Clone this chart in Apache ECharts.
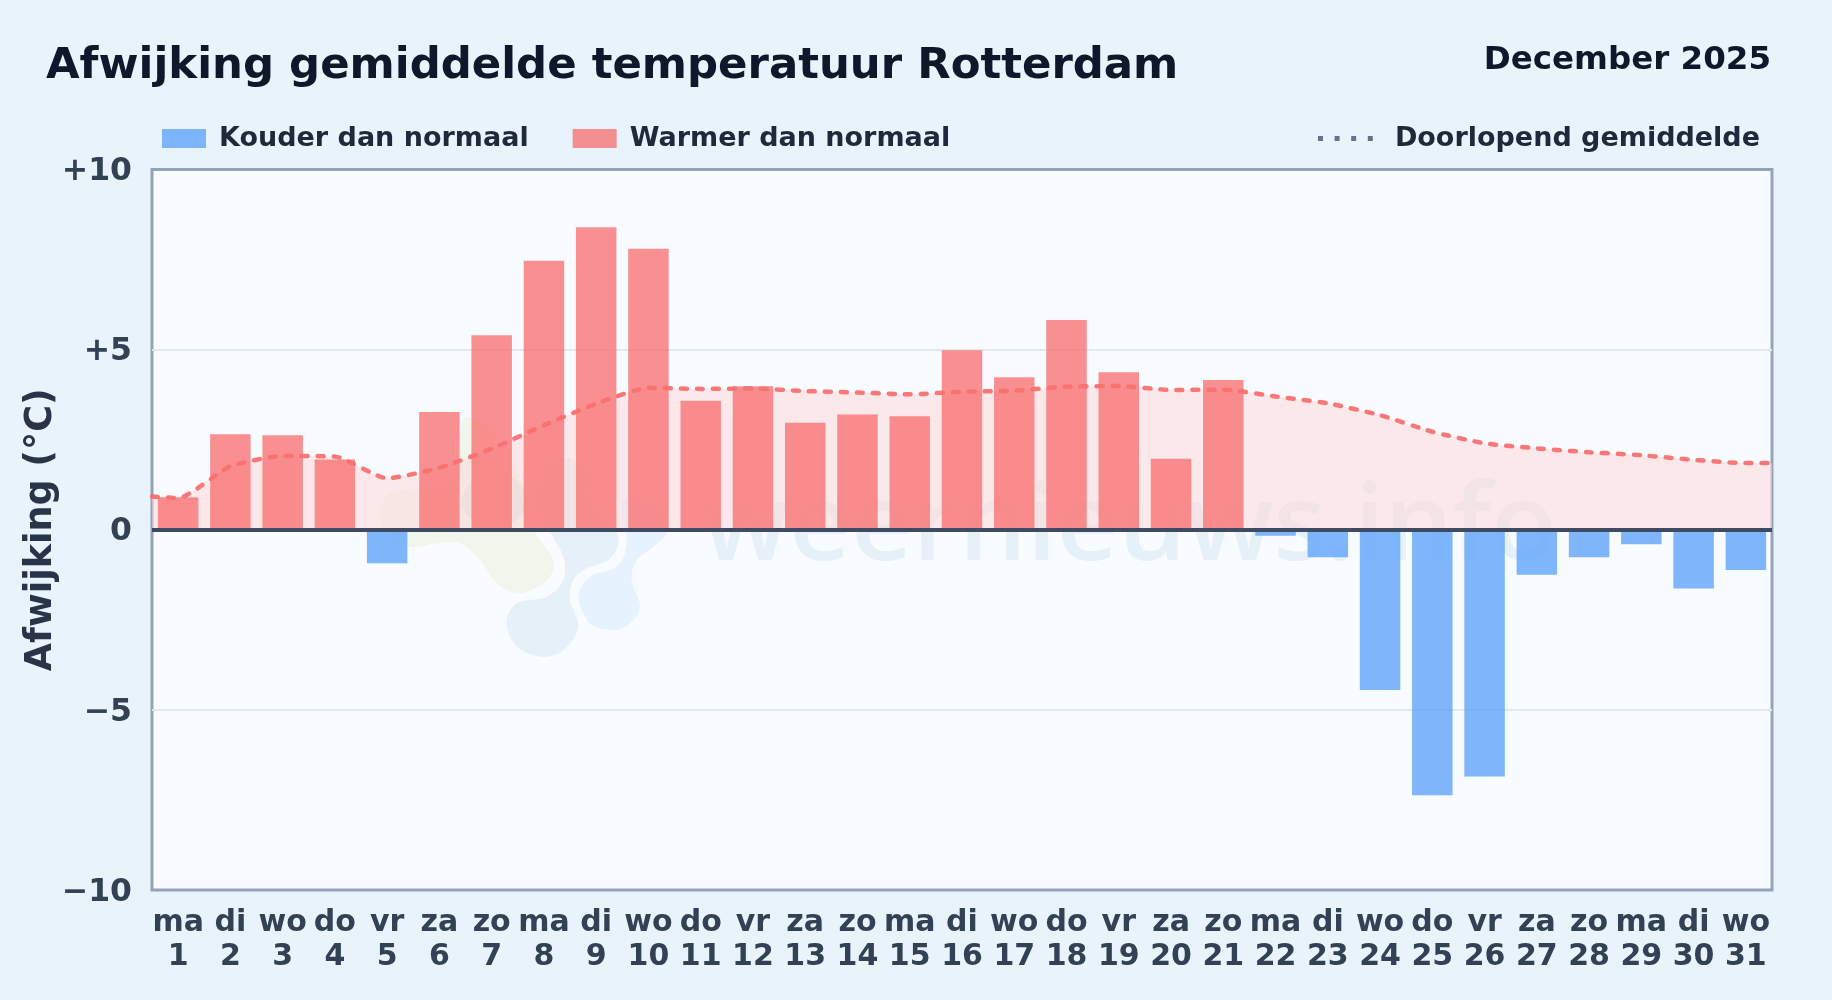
<!DOCTYPE html>
<html>
<head>
<meta charset="utf-8">
<script src="https://cdn.jsdelivr.net/npm/echarts@6/dist/echarts.min.js"></script>
<style>html,body{margin:0;padding:0;background:#e8f3fc}#c{width:1832px;height:1000px}</style>
</head>
<body>
<div id="c"></div>
<script>
const titleText = 'Afwijking gemiddelde temperatuur Rotterdam';
const periodText = 'December 2025';
const coldName = 'Kouder dan normaal';
const warmName = 'Warmer dan normaal';
const meanName = 'Doorlopend gemiddelde';
const yAxisName = 'Afwijking (°C)';
const weekdays = ['ma','di','wo','do','vr','za','zo','ma','di','wo','do','vr','za','zo','ma','di','wo','do','vr','za','zo','ma','di','wo','do','vr','za','zo','ma','di','wo'];
const days = [1,2,3,4,5,6,7,8,9,10,11,12,13,14,15,16,17,18,19,20,21,22,23,24,25,26,27,28,29,30,31];
const deviations = [0.9,2.65,2.62,1.95,-0.93,3.27,5.4,7.47,8.4,7.8,3.58,3.98,2.97,3.2,3.15,4.98,4.23,5.82,4.37,1.97,4.16,-0.17,-0.76,-4.45,-7.37,-6.85,-1.25,-0.76,-0.4,-1.63,-1.12];
const runningMean = [0.88,1.76,2.05,2.03,1.43,1.72,2.25,2.9,3.5,3.94,3.91,3.92,3.85,3.81,3.76,3.83,3.86,3.97,3.99,3.88,3.89,3.7,3.51,3.18,2.72,2.4,2.26,2.15,2.07,1.94,1.85];
const meanEdgeLeft = 0.92;
const meanEdgeRight = 1.85;
const yTickLabels = {'10':'+10','5':'+5','0':'0','-5':'−5','-10':'−10'};

const font = "'DejaVu Sans'";
const coldColor = 'rgba(96,165,250,0.8)';
const warmColor = 'rgba(248,113,113,0.78)';

const chart = echarts.init(document.getElementById('c'), null, {renderer:'canvas', width:1832, height:1000});

// Decorative logo outline: closed Catmull-Rom curve through hand-placed outline points
function roundOutline(p){
  const out=[], n=p.length;
  for(let i=0;i<n;i++){
    const a=p[(i-1+n)%n], b=p[i], c=p[(i+1)%n], d=p[(i+2)%n];
    for(let k=0;k<10;k++){
      const t=k/10, t2=t*t, t3=t2*t;
      out.push([0,1].map(j=>0.5*(2*b[j]+(c[j]-a[j])*t+(2*a[j]-5*b[j]+4*c[j]-d[j])*t2+(3*b[j]-a[j]-3*c[j]+d[j])*t3)));
    }
  }
  return out;
}
function blob(points, fill){
  return {type:'polygon', z:1, silent:true, shape:{points:roundOutline(points.map(p=>[360+p[0]/3,400+p[1]/3]))}, style:{fill:fill}};
}
const meanPoints = [[0.5,meanEdgeLeft]].concat(runningMean.map((v,i)=>[days[i],v]),[[31.5,meanEdgeRight]]);

chart.setOption({
  animation:false,
  backgroundColor:'#e8f3fc',
  textStyle:{fontFamily:font},
  title:[
    {text:titleText,left:46,top:45.5,padding:0,textStyle:{fontFamily:font,fontSize:43.4,fontWeight:'bold',color:'#0f172a'}},
    {text:periodText,right:61,top:44.5,padding:0,textStyle:{fontFamily:font,fontSize:32.5,fontWeight:'bold',color:'#0f172a'}}
  ],
  legend:[
    {left:162,top:125,padding:0,itemWidth:44,itemHeight:19,itemGap:44,selectedMode:false,
     data:[{name:coldName,icon:'rect'},{name:warmName,icon:'rect'}],
     textStyle:{fontFamily:font,fontSize:27,fontWeight:'bold',color:'#1e293b',padding:[0,0,0,8]}},
    {right:72,top:125,padding:0,itemWidth:55,itemHeight:19,selectedMode:false,
     data:[{name:meanName,icon:'path://M0 7h5v5H0z M16.6 7h5v5h-5z M33.2 7h5v5h-5z M49.8 7h5v5h-5z M0 0h0.01v19H0z M54.79 0h0.01v19h-0.01z',itemStyle:{color:'#64748b'}}],
     textStyle:{fontFamily:font,fontSize:27,fontWeight:'bold',color:'#1e293b',padding:[0,0,0,17]}}
  ],
  grid:{left:152,right:60,top:169.5,bottom:110,containLabel:false,show:true,backgroundColor:'#f8fbff',borderColor:'#94a3b8',borderWidth:3},
  xAxis:[
    {type:'category',data:days.map((d,i)=>weekdays[i]+'\n'+d),axisTick:{show:false},axisLine:{show:false,onZero:false},splitLine:{show:false},
     axisLabel:{interval:0,hideOverlap:false,fontFamily:font,fontSize:30,fontWeight:'bold',color:'#334155',lineHeight:34,margin:16.5}},
    {type:'value',min:0.5,max:31.5,show:false}
  ],
  yAxis:{type:'value',min:-10,max:10,interval:5,name:yAxisName,nameLocation:'middle',nameGap:92,nameMoveOverlap:false,
    nameTextStyle:{fontFamily:font,fontSize:36.5,fontWeight:'bold',color:'#283548'},
    axisLine:{show:false},axisTick:{show:false},
    splitLine:{show:true,showMinLine:false,showMaxLine:false,lineStyle:{color:'#e2e7ea',width:2}},
    axisLabel:{formatter:v=>'{t|'+yTickLabels[String(v)]+'}',margin:20,
      rich:{t:{fontFamily:font,fontSize:31.5,fontWeight:'bold',color:'#334155',padding:[5,0,0,0]}}}},
  graphic:[
    blob([[60,340],[90,280],[170,265],[280,230],[300,100],[320,50],[400,100],[480,230],[500,300],[520,390],[580,480],[560,540],[480,580],[410,550],[360,480],[300,430],[230,430],[150,440],[80,400]],'rgba(190,215,110,0.13)'),
    blob([[440,670],[470,610],[560,590],[610,540],[610,470],[570,395],[530,300],[560,200],[630,175],[690,230],[690,300],[760,380],[775,430],[745,480],[680,505],[640,540],[630,600],[655,680],[610,750],[545,770],[470,740]],'rgba(30,110,160,0.08)'),
    blob([[305,300],[340,240],[400,220],[470,240],[500,300],[470,360],[400,380],[335,360]],'rgba(30,110,160,0.08)'),
    blob([[655,590],[690,530],[770,500],[800,430],[790,300],[880,310],[930,380],[880,440],[830,480],[815,540],[840,620],[810,670],[760,690],[690,670]],'rgba(56,170,240,0.09)'),
    {type:'text',z:1,silent:true,style:{text:'weernieuws.info',x:702,y:476,font:"600 107px 'Open Sans'",fill:'rgba(20,110,170,0.08)'}}
  ],
  series:[
    {name:meanName+' vlak',type:'line',xAxisIndex:1,symbol:'none',smooth:0.18,z:2,silent:true,
     data:meanPoints,lineStyle:{width:0},itemStyle:{color:'#f87171'},
     areaStyle:{color:'rgba(254,214,214,0.5)',opacity:1}},
    {name:coldName,type:'bar',barWidth:40.5,barGap:'-100%',itemStyle:{color:coldColor},
     data:deviations.map(v=>v<0?v:null),z:3},
    {name:warmName,type:'bar',barWidth:40.5,barGap:'-100%',itemStyle:{color:warmColor},
     data:deviations.map(v=>v>=0?v:null),z:3},
    {name:meanName,type:'line',xAxisIndex:1,symbol:'none',smooth:0.18,z:4,
     data:meanPoints,
     itemStyle:{color:'#f87171'},
     lineStyle:{color:'rgba(248,113,113,0.95)',width:4.5,type:[6,10],cap:'round'},
     markLine:{silent:true,symbol:'none',label:{show:false},animation:false,
       lineStyle:{color:'#3f4b63',width:4,type:'solid'},data:[{yAxis:0}]}}
  ]
});
</script>
</body>
</html>
